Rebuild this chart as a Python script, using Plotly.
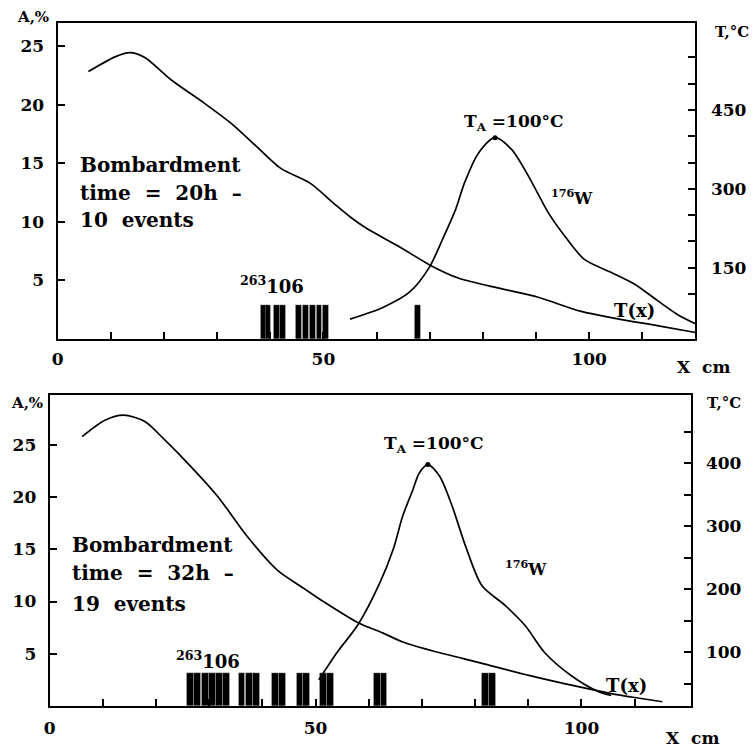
import plotly.graph_objects as go

W, H = 755, 749

# ---------------- Upper panel (20 h bombardment) ----------------
up_T_x = [5.8, 10.8, 13.6, 16.4, 21.4, 27.6, 32.6, 37.5, 42.0, 47.5, 51.9, 55.0, 58.1,
          64.3, 69.9, 75.5, 83.6, 90.4, 98.5, 105.4, 112.8, 120.0]
up_T_val = [523, 551, 559, 550, 507, 463, 425, 380, 339, 311, 273, 247, 225,
            190, 156, 130, 110, 94, 67, 53, 40, 27]

up_W_x = [55.0, 61.2, 66.2, 69.9, 72.4, 74.9, 76.6, 79.2, 82.3, 85.4, 88.6, 92.3, 95.4,
          99.1, 104.1, 108.5, 112.8, 116.6, 120.0]
up_W_val = [1.7, 2.7, 4.0, 6.1, 8.5, 11.1, 13.4, 15.9, 17.2, 16.2, 13.9, 10.8, 8.8,
            6.8, 5.7, 4.7, 3.3, 2.1, 1.3]

up_events_x = [38.7, 39.6, 41.2, 42.3, 45.3, 46.7, 47.9, 49.2, 50.4, 67.7]
up_event_height = 2.9

# ---------------- Lower panel (32 h bombardment) ----------------
lo_T_x = [6.1, 10.4, 13.9, 17.9, 21.6, 26.6, 31.6, 37.2, 42.8, 47.8, 51.5, 58.0,
          62.7, 66.4, 72.6, 77.6, 81.3, 90.1, 99.4, 105.6, 110.6, 115.2]
lo_T_val = [442, 468, 476, 466, 437, 394, 347, 283, 230, 201, 180, 146.5,
            130, 116, 100.5, 90, 82, 63, 45, 34, 27, 21]

lo_W_x = [50.6, 54.0, 58.0, 62.1, 64.6, 66.4, 68.3, 69.5, 71.1, 73.3, 75.7, 78.2, 81.3,
          85.7, 89.4, 93.1, 98.1, 103.1, 105.6]
lo_W_val = [2.5, 5.1, 7.8, 11.8, 15.0, 18.2, 20.7, 22.3, 23.1, 22.0, 19.1, 15.3, 11.5,
            9.6, 7.7, 5.1, 2.9, 1.4, 1.0]

lo_events_x = [26.4, 27.8, 29.3, 30.5, 31.9, 33.2, 36.1, 37.5, 38.9, 42.4, 43.7,
               47.0, 48.2, 51.4, 52.8, 61.6, 62.8, 81.9, 83.2]
lo_event_height = 3.2

x_ticks = list(range(0, 120, 10))
x_labels = ["0" if v == 0 else "50" if v == 50 else "100" if v == 100 else "" for v in x_ticks]
A_ticks = [5, 10, 15, 20, 25]
up_T_ticks = list(range(100, 600, 50))
up_T_labels = [str(v) if v in (150, 300, 450) else "" for v in up_T_ticks]
lo_T_ticks = list(range(50, 500, 50))
lo_T_labels = [str(v) if v in (100, 200, 300, 400) else "" for v in lo_T_ticks]

FONT = "DejaVu Serif"
tickfont = dict(family=FONT, size=17, color="black", weight="bold")

fig = go.Figure()

line = dict(color="black", width=1.7, shape="spline", smoothing=0.8)

# upper
fig.add_trace(go.Bar(x=up_events_x, y=[up_event_height] * len(up_events_x), width=1.1,
                     marker=dict(color="black", line=dict(color="#dddddd", width=0.3)),
                     xaxis="x", yaxis="y", showlegend=False))
fig.add_trace(go.Scatter(x=up_W_x, y=up_W_val, mode="lines", line=line,
                         xaxis="x", yaxis="y", showlegend=False))
fig.add_trace(go.Scatter(x=[82.3], y=[17.2], mode="markers", marker=dict(color="black", size=5),
                         xaxis="x", yaxis="y", showlegend=False))
fig.add_trace(go.Scatter(x=up_T_x, y=up_T_val, mode="lines", line=line,
                         xaxis="x", yaxis="y2", showlegend=False))
# lower
fig.add_trace(go.Bar(x=lo_events_x, y=[lo_event_height] * len(lo_events_x), width=1.3,
                     marker=dict(color="black", line=dict(color="#dddddd", width=0.3)),
                     xaxis="x2", yaxis="y3", showlegend=False))
fig.add_trace(go.Scatter(x=lo_W_x, y=lo_W_val, mode="lines", line=line,
                         xaxis="x2", yaxis="y3", showlegend=False))
fig.add_trace(go.Scatter(x=[71.1], y=[23.1], mode="markers", marker=dict(color="black", size=5),
                         xaxis="x2", yaxis="y3", showlegend=False))
fig.add_trace(go.Scatter(x=lo_T_x, y=lo_T_val, mode="lines", line=line,
                         xaxis="x2", yaxis="y4", showlegend=False))

axcommon = dict(showline=True, linecolor="black", linewidth=2, showgrid=False, zeroline=False,
                ticks="inside", ticklen=7, tickwidth=1.5, tickcolor="black", tickfont=tickfont)

fig.update_layout(
    width=W, height=H, margin=dict(l=0, r=0, t=0, b=0),
    paper_bgcolor="white", plot_bgcolor="white", bargap=0, barmode="overlay",
    xaxis=dict(domain=[52 / W, 695 / W], range=[0, 120], anchor="y", mirror=True,
               tickmode="array", tickvals=x_ticks, ticktext=x_labels, ticklabelstandoff=4, **axcommon),
    yaxis=dict(domain=[1 - 339 / H, 1 - 23 / H], range=[0, 27.0], anchor="x",
               tickmode="array", tickvals=A_ticks, ticklabelstandoff=8, **axcommon),
    yaxis2=dict(overlaying="y", side="right", anchor="x", range=[14.6, 615.4],
                tickmode="array", tickvals=up_T_ticks, ticktext=up_T_labels, ticklabelstandoff=10, **axcommon),
    xaxis2=dict(domain=[44 / W, 690 / W], range=[0, 120.5], anchor="y3", mirror=True,
                tickmode="array", tickvals=x_ticks, ticktext=x_labels, ticklabelstandoff=6, **axcommon),
    yaxis3=dict(domain=[1 - 706 / H, 1 - 395 / H], range=[0, 29.76], anchor="x2",
                tickmode="array", tickvals=A_ticks, ticklabelstandoff=8, **axcommon),
    yaxis4=dict(overlaying="y3", side="right", anchor="x2", range=[14.3, 508],
                tickmode="array", tickvals=lo_T_ticks, ticktext=lo_T_labels, ticklabelstandoff=10, **axcommon),
)

def txt(text, x, y, xref, yref, size=17, xanchor="center"):
    fig.add_annotation(text=text, x=x, y=y, xref=xref, yref=yref, showarrow=False,
                       xanchor=xanchor, yanchor="middle",
                       font=dict(family=FONT, size=size, color="black", weight="bold"))

# axis titles (paper coords)
txt("A,%", 27 / W, 1 - 17 / H, "paper", "paper", size=15)
txt("T,°C", 732 / W, 1 - 32 / H, "paper", "paper", size=15)
txt("X  cm", 703 / W, 1 - 367 / H, "paper", "paper", size=17)
txt("A,%", 21 / W, 1 - 403 / H, "paper", "paper", size=15)
txt("T,°C", 724 / W, 1 - 403 / H, "paper", "paper", size=15)
txt("X  cm", 692 / W, 1 - 738 / H, "paper", "paper", size=17)

# upper panel texts
txt("Bombardment", 3.9, 14.9, "x", "y", size=20, xanchor="left")
txt("time  =  20h  –", 3.9, 12.5, "x", "y", size=20, xanchor="left")
txt("10  events", 3.9, 10.2, "x", "y", size=20, xanchor="left")
txt("<sup>263</sup>106", 40.3, 4.6, "x", "y", size=18)
txt("T<sub>A</sub> =100°C", 85.8, 18.5, "x", "y", size=17)
txt("<sup>176</sup>W", 96.8, 12.1, "x", "y", size=16)
txt("T(x)", 108.6, 2.4, "x", "y", size=18)

# lower panel texts
txt("Bombardment", 3.9, 15.4, "x2", "y3", size=20, xanchor="left")
txt("time  =  32h  –", 3.9, 12.7, "x2", "y3", size=20, xanchor="left")
txt("19  events", 3.9, 9.8, "x2", "y3", size=20, xanchor="left")
txt("<sup>263</sup>106", 29.8, 4.4, "x2", "y3", size=18)
txt("T<sub>A</sub> =100°C", 72.2, 25.0, "x2", "y3", size=17)
txt("<sup>176</sup>W", 89.6, 13.2, "x2", "y3", size=16)
txt("T(x)", 108.4, 2.0, "x2", "y3", size=18)

fig.write_html("out.html", config={"displayModeBar": False},
               post_script="document.body.style.margin='0';")
